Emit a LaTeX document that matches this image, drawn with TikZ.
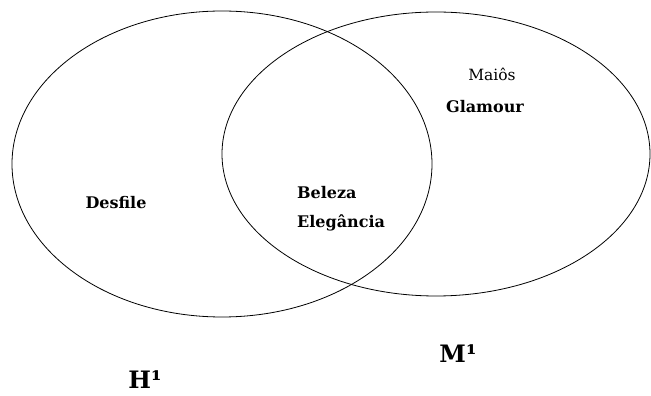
\documentclass[tikz,border=0pt]{standalone}
\usepackage{fontspec}
\setmainfont{DejaVu Serif}
\usetikzlibrary{shapes.geometric}
\begin{document}
\begin{tikzpicture}[x=1pt,y=1pt,
  setline/.style={ellipse, draw=black, line width=0.8pt, inner sep=0pt},
  lbl/.style={font=\bfseries\fontsize{16}{18}\selectfont, inner sep=0pt},
  lblreg/.style={font=\fontsize{15.5}{18}\selectfont, inner sep=0pt},
  setname/.style={font=\bfseries\fontsize{24}{28}\selectfont, inner sep=0pt}]
  \useasboundingbox (0,0) rectangle (651,396);
  % the two sets
  \node[setline, minimum width=420pt, minimum height=306pt] (H) at (222,232) {};
  \node[setline, minimum width=428pt, minimum height=284pt] (M) at (436,242) {};
  % contents
  \node[lbl] (desfile) at (116,193) {Desfile};
  \node[lbl, anchor=west] (beleza) at (297,203) {Beleza};
  \node[lbl, anchor=west] (elegancia) at (297,173) {Elegância};
  \node[lblreg] (maios) at (492,322) {Maiôs};
  \node[lbl] (glamour) at (485,289) {Glamour};
  % set names
  \node[setname] (Mname) at (458,42) {M¹};
  \node[setname] (Hname) at (145,16) {H¹};
\end{tikzpicture}
\end{document}
